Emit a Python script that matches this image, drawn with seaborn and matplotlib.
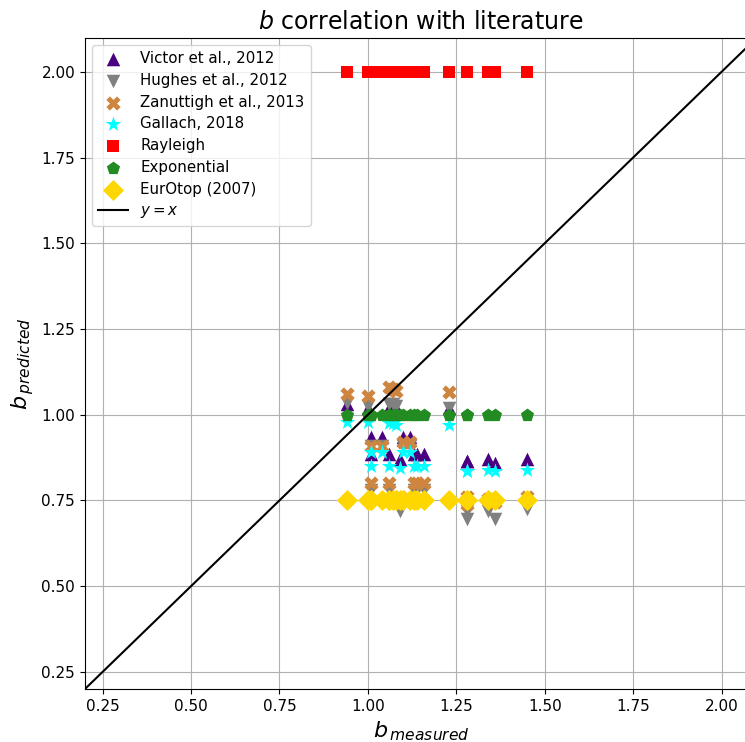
import numpy as np
import matplotlib
matplotlib.use("Agg")
import matplotlib.pyplot as plt
import seaborn as sns

# measured b for each test
b_measured = [0.94, 1.00, 1.01, 1.01, 1.04, 1.06, 1.06, 1.07, 1.08, 1.09,
              1.10, 1.12, 1.13, 1.14, 1.16, 1.23, 1.28, 1.28, 1.34, 1.36, 1.45]

# predicted b per formula
victor = [1.03, 1.02, 0.935, 0.885, 0.935, 1.02, 0.885, 1.02, 1.02, 0.87,
          0.935, 0.935, 0.885, 0.885, 0.885, 1.02, 0.865, 0.865, 0.87, 0.86, 0.87]
hughes = [1.035, 1.025, 0.91, 0.78, 0.91, 1.03, 0.78, 1.03, 1.025, 0.72,
          0.91, 0.91, 0.78, 0.78, 0.78, 1.02, 0.72, 0.695, 0.72, 0.695, 0.725]
zanuttigh = [1.06, 1.055, 0.91, 0.80, 0.91, 1.08, 0.80, 1.075, 1.07, 0.76,
             0.92, 0.92, 0.80, 0.80, 0.80, 1.065, 0.76, 0.74, 0.755, 0.745, 0.76]
gallach = [0.98, 0.98, 0.89, 0.85, 0.89, 0.975, 0.85, 0.975, 0.97, 0.845,
           0.89, 0.89, 0.85, 0.85, 0.85, 0.97, 0.835, 0.835, 0.84, 0.835, 0.84]
rayleigh = [2.0] * len(b_measured)
exponential = [1.0] * len(b_measured)
eurotop = [0.75] * len(b_measured)

series = [
    ("Victor et al., 2012", victor, "^", "indigo", 95),
    ("Hughes et al., 2012", hughes, "v", "gray", 95),
    ("Zanuttigh et al., 2013", zanuttigh, "X", "peru", 105),
    ("Gallach, 2018", gallach, "*", "cyan", 135),
    ("Rayleigh", rayleigh, "s", "red", 85),
    ("Exponential", exponential, "p", "forestgreen", 100),
    ("EurOtop (2007)", eurotop, "D", "gold", 115),
]

fig = plt.figure(figsize=(7.45, 7.42), dpi=100)
# axes run slightly past the right edge of the saved image, as in the original
ax = fig.add_axes([0.114, 0.0714, 0.902, 0.878])

for name, vals, mk, col, sz in series:
    sns.scatterplot(x=b_measured, y=vals, marker=mk, color=col, s=sz,
                    linewidth=0, label=name, ax=ax, zorder=3)

lims = [0.2, 2.1]
ax.plot(lims, lims, color="black", lw=1.5, label="$y = x$", zorder=4)

ax.set_xlim(0.2, 2.1)
ax.set_ylim(0.2, 2.1)
ax.set_xticks(np.arange(0.25, 2.01, 0.25))
ax.set_yticks(np.arange(0.25, 2.01, 0.25))
ax.grid(True, zorder=0)
ax.set_axisbelow(True)
ax.set_title("$b$ correlation with literature", fontsize=17)
ax.set_xlabel("$b_{\\,measured}$", fontsize=16)
ax.set_ylabel("$b_{\\,predicted}$", fontsize=16)
ax.tick_params(labelsize=11)
ax.legend(loc="upper left", fontsize=10.8, labelspacing=0.45)

fig.savefig("out.png", dpi=100)
